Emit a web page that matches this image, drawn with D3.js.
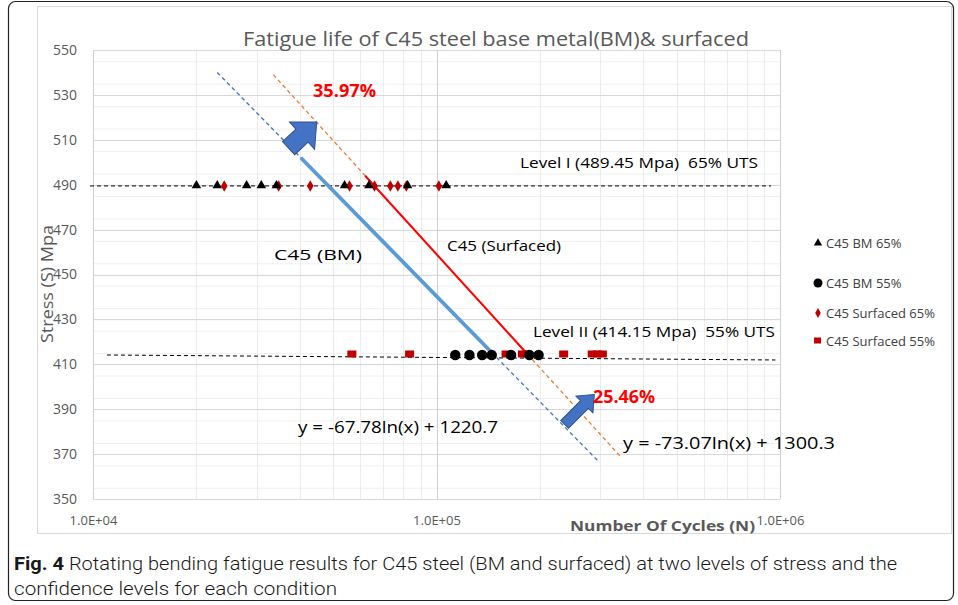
<!DOCTYPE html>
<html><head><meta charset="utf-8">
<script src="https://cdn.jsdelivr.net/npm/d3@7"></script>
<style>body{margin:0;background:#fff} text{white-space:pre}</style>
</head><body>
<svg id="c" width="958" height="605"></svg>
<script>
// ---------------- data ----------------
const stressLevels = [489.45, 414.15];
const bm65Cycles = [20000, 23000, 28000, 30900, 34200, 54000, 63600, 82400, 106700];
const bm55Cycles = [113400, 124700, 135800, 144800, 164900, 186400, 198300];
const surf65Cycles = [24100, 34700, 42900, 55800, 66000, 73400, 77200, 81700, 101600];
const surf55Cycles = [56700, 83500, 159400, 177800, 182700, 234500, 284000, 294000, 304000];
const bmFit = [-67.78, 1220.7];     // S = a ln(N) + b
const surfFit = [-73.07, 1300.3];
const bmSolidStress = [502, 414.15];
const surfSolidStress = [494, 414.15];
const bmDashStress = [540, 367];
const surfDashStress = [539, 369];
const yTicks = [350, 370, 390, 410, 430, 450, 470, 490, 510, 530, 550];
const xTickValues = [1e4, 1e5, 1e6];
const xTickLabels = ["1.0E+04", "1.0E+05", "1.0E+06"];
const legendLabels = ["C45 BM 65%", "C45 BM 55%", "C45 Surfaced 65%", "C45 Surfaced 55%"];
const improvements = ["35.97%", "25.46%"];
const levelLabels = ["Level I (489.45 Mpa)  65% UTS", "Level II (414.15 Mpa)  55% UTS"];
const eqLabels = ["y = -67.78ln(x) + 1220.7", "y = -73.07ln(x) + 1300.3"];
// arrows: [tail N, tail S, tip N, tip S]
const arrowData = [[37100, 506.3, 44800, 517.9], [236000, 383.2, 288000, 396.5]];
// ---------------- layout ----------------
const svg = d3.select("#c");
const F = "'Open Sans', 'Noto Sans', sans-serif";
const x = d3.scaleLog().domain([1e4, 1e6]).range([93, 780]);
const y = d3.scaleLinear().domain([350, 550]).range([499, 50]);

function fitText(sel, w) { sel.attr("textLength", w).attr("lengthAdjust", "spacingAndGlyphs"); return sel; }

// outer figure frame
svg.append("rect").attr("x", 8.5).attr("y", 1.5).attr("width", 945).attr("height", 599)
  .attr("rx", 7).attr("fill", "none").attr("stroke", "#222").attr("stroke-width", 1.2);
// chart area border
svg.append("rect").attr("x", 37.5).attr("y", 6.5).attr("width", 914).attr("height", 527)
  .attr("fill", "none").attr("stroke", "#d9d9d9").attr("stroke-width", 1);

// gridlines
const g = svg.append("g");
const minorY = d3.range(350, 551, 5).filter(v => v % 20 !== 0);
g.selectAll(".hm").data(minorY).join("line")
  .attr("x1", x(1e4)).attr("x2", x(1e6)).attr("y1", d => y(d) + 0.5).attr("y2", d => y(d) + 0.5)
  .attr("stroke", "#f0f0f0");
const minorX = [];
[1e4, 1e5].forEach(b => { for (let k = 2; k <= 9; k++) minorX.push(b * k); });
g.selectAll(".vm").data(minorX).join("line")
  .attr("x1", d => Math.round(x(d)) + 0.5).attr("x2", d => Math.round(x(d)) + 0.5)
  .attr("y1", y(550)).attr("y2", y(350)).attr("stroke", "#ececec");
g.selectAll(".hM").data(yTicks).join("line")
  .attr("x1", x(1e4)).attr("x2", x(1e6)).attr("y1", d => Math.round(y(d)) + 0.5).attr("y2", d => Math.round(y(d)) + 0.5)
  .attr("stroke", "#d9d9d9");
g.selectAll(".vM").data(xTickValues).join("line")
  .attr("x1", d => Math.round(x(d)) + 0.5).attr("x2", d => Math.round(x(d)) + 0.5)
  .attr("y1", y(550)).attr("y2", y(350)).attr("stroke", "#d0d0d0");

// axes labels
const yAxis = d3.axisLeft(y).tickValues(yTicks).tickSize(0).tickPadding(16);
const ya = svg.append("g").attr("transform", `translate(${x(1e4)},0)`).call(yAxis);
ya.select(".domain").remove();
ya.selectAll("text").attr("font-family", F).attr("font-size", 14).attr("fill", "#595959");
const xAxis = d3.axisBottom(x).tickValues(xTickValues).tickFormat((d, i) => xTickLabels[i]).tickSize(0).tickPadding(17);
const xa = svg.append("g").attr("transform", `translate(0,${y(350)})`).call(xAxis);
xa.select(".domain").remove();
xa.selectAll("text").attr("font-family", F).attr("font-size", 13).attr("fill", "#595959");

// title
fitText(svg.append("text").attr("x", 243).attr("y", 46).attr("font-family", F).attr("font-size", 20)
  .attr("fill", "#595959").text("Fatigue life of C45 steel base metal(BM)& surfaced"), 506);
// axis titles
fitText(svg.append("text").attr("x", 570).attr("y", 531).attr("font-family", F).attr("font-size", 15)
  .attr("font-weight", "bold").attr("fill", "#595959").text("Number Of Cycles (N)"), 185);
fitText(svg.append("text").attr("transform", "translate(53,343) rotate(-90)").attr("font-family", F)
  .attr("font-size", 17).attr("fill", "#595959").text("Stress (S) Mpa"), 118);

// stress level dashed lines
svg.append("line").attr("x1", x(9800)).attr("x2", x(9.42e5))
  .attr("y1", y(stressLevels[0])).attr("y2", y(stressLevels[0]))
  .attr("stroke", "#000").attr("stroke-width", 1).attr("stroke-dasharray", "4,3");
svg.append("line").attr("x1", x(1.098e4)).attr("x2", x(9.7e5))
  .attr("y1", y(stressLevels[1])).attr("y2", y(stressLevels[1]) + 5)
  .attr("stroke", "#000").attr("stroke-width", 1).attr("stroke-dasharray", "4,3");

// fit lines
const nOf = (f, s) => Math.exp((s - f[1]) / f[0]);
function fitLine(f, ext, color, w, dash) {
  const pts = ext.map(s => [x(nOf(f, s)), y(s)]);
  svg.append("path").attr("d", d3.line()(pts)).attr("stroke", color).attr("stroke-width", w)
    .attr("fill", "none").attr("stroke-dasharray", dash || null);
}
fitLine(bmFit, bmDashStress, "#4472c4", 1.3, "4,3");
fitLine(surfFit, surfDashStress, "#ed7d31", 1.3, "4,3");
fitLine(bmFit, bmSolidStress, "#5b9bd5", 3.8);
fitLine(surfFit, surfSolidStress, "#ff0000", 2);

// markers
const tri = d3.symbol().type(d3.symbolTriangle).size(40);
const dia = d3.symbol().type(d3.symbolDiamond).size(38);
svg.append("g").selectAll("path").data(surf65Cycles).join("path")
  .attr("transform", d => `translate(${x(d)},${y(stressLevels[0])})`).attr("d", dia).attr("fill", "#c00000");
svg.append("g").selectAll("path").data(bm65Cycles).join("path")
  .attr("transform", d => `translate(${x(d)},${y(stressLevels[0]) - 0.5})`).attr("d", tri).attr("fill", "#000");
svg.append("g").selectAll("rect").data(surf55Cycles).join("rect")
  .attr("x", d => x(d) - 4.5).attr("y", y(stressLevels[1]) - 4.5).attr("width", 9).attr("height", 7).attr("fill", "#c00000");
svg.append("g").selectAll("circle").data(bm55Cycles).join("circle")
  .attr("cx", d => x(d)).attr("cy", y(stressLevels[1])).attr("r", 5.2).attr("fill", "#000");

// arrows
function blockArrow(a, shaftW, headW, headL) {
  const x0 = x(a[0]), y0 = y(a[1]), x1 = x(a[2]), y1 = y(a[3]);
  const L = Math.hypot(x1 - x0, y1 - y0), ang = Math.atan2(y1 - y0, x1 - x0) * 180 / Math.PI;
  const s = shaftW / 2, h = headW / 2, b = L - headL;
  const pts = [[0, -s], [b, -s], [b, -h], [L, 0], [b, h], [b, s], [0, s]];
  svg.append("path").attr("d", d3.line()(pts) + "Z")
    .attr("transform", `translate(${x0},${y0}) rotate(${ang})`)
    .attr("fill", "#4472c4").attr("stroke", "#2f528f").attr("stroke-width", 1);
}
blockArrow(arrowData[0], 18, 37, 20);
blockArrow(arrowData[1], 11, 24, 14);

// annotations
const ann = svg.append("g").attr("font-family", F);
fitText(ann.append("text").attr("x", 313).attr("y", 97).attr("font-size", 17).attr("font-weight", "bold")
  .attr("fill", "#ff0000").text(improvements[0]), 63);
fitText(ann.append("text").attr("x", 593).attr("y", 403).attr("font-size", 17).attr("font-weight", "bold")
  .attr("fill", "#ff0000").text(improvements[1]), 62);
fitText(ann.append("text").attr("x", 520).attr("y", 168).attr("font-size", 15).attr("fill", "#000").text(levelLabels[0]), 238);
fitText(ann.append("text").attr("x", 533).attr("y", 337).attr("font-size", 15).attr("fill", "#000").text(levelLabels[1]), 242);
fitText(ann.append("text").attr("x", 274).attr("y", 260).attr("font-size", 15).attr("fill", "#000").text("C45 (BM)"), 88);
fitText(ann.append("text").attr("x", 447).attr("y", 251).attr("font-size", 15).attr("fill", "#000").text("C45 (Surfaced)"), 114);
fitText(ann.append("text").attr("x", 298).attr("y", 433).attr("font-size", 16).attr("fill", "#000").text(eqLabels[0]), 200);
fitText(ann.append("text").attr("x", 623).attr("y", 449).attr("font-size", 17).attr("fill", "#000").text(eqLabels[1]), 212);

// legend
const legY = [243, 283, 313, 341];
const leg = svg.append("g").attr("font-family", F).attr("font-size", 13).attr("fill", "#404040");
legendLabels.forEach((t, i) => {
  const gy = legY[i];
  if (i === 0) leg.append("path").attr("transform", `translate(818,${gy})`).attr("d", d3.symbol().type(d3.symbolTriangle).size(30)).attr("fill", "#000");
  if (i === 1) leg.append("circle").attr("cx", 818).attr("cy", gy).attr("r", 4.5).attr("fill", "#000");
  if (i === 2) leg.append("path").attr("transform", `translate(818,${gy})`).attr("d", d3.symbol().type(d3.symbolDiamond).size(28)).attr("fill", "#c00000");
  if (i === 3) leg.append("rect").attr("x", 814).attr("y", gy - 3.5).attr("width", 7).attr("height", 6).attr("fill", "#c00000");
  leg.append("text").attr("x", 826).attr("y", gy + 4.5).text(t);
});

// caption
const CF = "'Roboto', 'Liberation Sans', sans-serif";
const cap1 = svg.append("text").attr("x", 14).attr("y", 570).attr("font-family", CF).attr("font-size", 18).attr("fill", "#1a1a1a");
cap1.append("tspan").attr("font-weight", "bold").text("Fig. 4");
cap1.append("tspan").attr("font-weight", 300).text(" Rotating bending fatigue results for C45 steel (BM and surfaced) at two levels of stress and the");
fitText(cap1, 883);
fitText(svg.append("text").attr("x", 14).attr("y", 595).attr("font-family", CF).attr("font-size", 18).attr("font-weight", 300).attr("fill", "#1a1a1a")
  .text("confidence levels for each condition"), 323);
</script>
</body></html>
